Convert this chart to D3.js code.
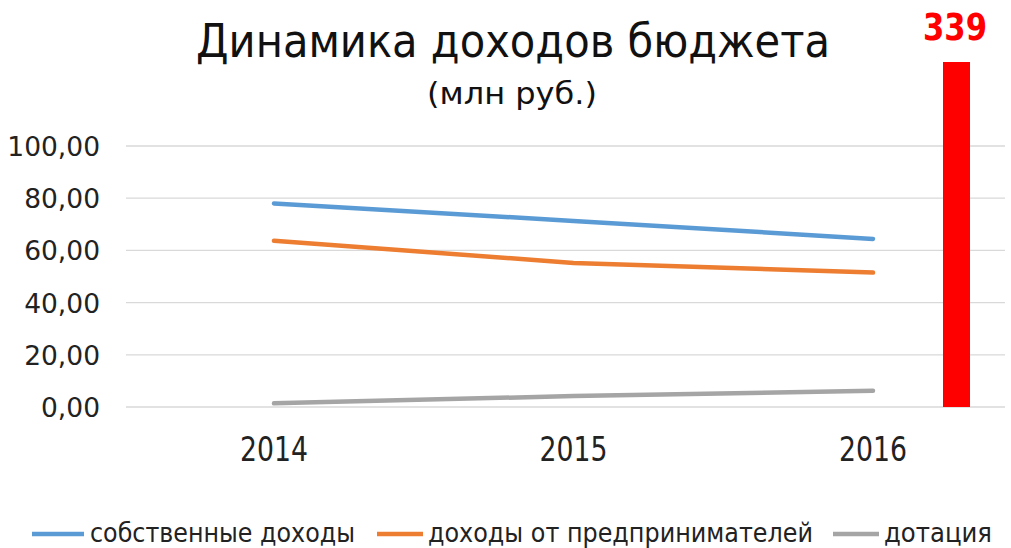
<!DOCTYPE html>
<html><head><meta charset="utf-8">
<script src="https://cdn.jsdelivr.net/npm/d3@7"></script>
<style>body{margin:0;background:#fff}svg{display:block}text{font-family:"DejaVu Sans",sans-serif}</style>
</head><body>
<svg id="c" width="1011" height="548"></svg>
<script>
const years = ["2014","2015","2016"];
const ownIncome = [78.0, 71.3, 64.4];
const entrepreneurIncome = [63.7, 55.2, 51.5];
const subsidy = [1.4, 4.2, 6.2];
const seriesNames = ["собственные доходы","доходы от предпринимателей","дотация"];
const seriesColors = ["#5b9bd5","#ed7d31","#a5a5a5"];
const yTicks = [0,20,40,60,80,100];
const barValue = [339];

const svg = d3.select("#c");
const x = d3.scalePoint().domain(years).range([274, 873]);
const y = d3.scaleLinear().domain([0,100]).range([407,146]);
const yBar = d3.scaleLinear().domain([0,339]).range([407,62]);

// grid
svg.append("g").selectAll("line").data(yTicks).join("line")
  .attr("x1",126).attr("x2",1005)
  .attr("y1",d=>y(d)).attr("y2",d=>y(d))
  .attr("stroke","#d9d9d9").attr("stroke-width",1.3);

// y labels
const fmt = d => d3.format(".2f")(d).replace(".",",");
svg.append("g").selectAll("text").data(yTicks).join("text")
  .attr("x",100).attr("y",d=>y(d)+10)
  .attr("text-anchor","end").attr("font-size",26.5).attr("fill","#222")
  .text(fmt);

// x labels
svg.append("g").selectAll("text").data(years).join("text")
  .attr("x",d=>x(d)).attr("y",461)
  .attr("text-anchor","middle").attr("font-size",33).attr("fill","#222")
  .attr("textLength",68).attr("lengthAdjust","spacingAndGlyphs")
  .text(d=>d);

// lines
const data = [ownIncome, entrepreneurIncome, subsidy];
const line = d3.line().x((d,i)=>x(years[i])).y(d=>y(d));
svg.append("g").selectAll("path").data(data).join("path")
  .attr("d",line).attr("fill","none")
  .attr("stroke",(d,i)=>seriesColors[i]).attr("stroke-width",4.5)
  .attr("stroke-linecap","round");

// red bar
svg.append("g").selectAll("rect").data(barValue).join("rect")
  .attr("x",943).attr("width",27)
  .attr("y",d=>yBar(d)).attr("height",d=>yBar(0)-yBar(d))
  .attr("fill","#ff0000");
svg.append("g").selectAll("text").data(barValue).join("text")
  .attr("x",955).attr("y",40).attr("text-anchor","middle")
  .attr("font-size",37).attr("font-weight","bold").attr("fill","#ff0000")
  .attr("textLength",64).attr("lengthAdjust","spacingAndGlyphs")
  .text(d=>d);

// title
svg.append("text").attr("x",513).attr("y",57).attr("text-anchor","middle")
  .attr("font-size",47).attr("fill","#111")
  .attr("textLength",634).attr("lengthAdjust","spacingAndGlyphs")
  .text("Динамика доходов бюджета");
svg.append("text").attr("x",512).attr("y",104).attr("text-anchor","middle")
  .attr("font-size",31).attr("fill","#111")
  .attr("textLength",170).attr("lengthAdjust","spacingAndGlyphs")
  .text("(млн руб.)");

// legend
const legX = [32, 377, 833];
const legLen = [265, 385, 108];
const lg = svg.append("g").selectAll("g").data(seriesNames).join("g")
  .attr("transform",(d,i)=>`translate(${legX[i]},534)`);
lg.append("line").attr("x1",0).attr("x2",(d,i)=>i===0?52:46).attr("y1",0).attr("y2",0)
  .attr("stroke",(d,i)=>seriesColors[i]).attr("stroke-width",4.5);
lg.append("text").attr("x",(d,i)=>i===0?58:51).attr("y",8)
  .attr("font-size",26).attr("fill","#222")
  .attr("textLength",(d,i)=>legLen[i]).attr("lengthAdjust","spacingAndGlyphs")
  .text(d=>d);
</script>
</body></html>
